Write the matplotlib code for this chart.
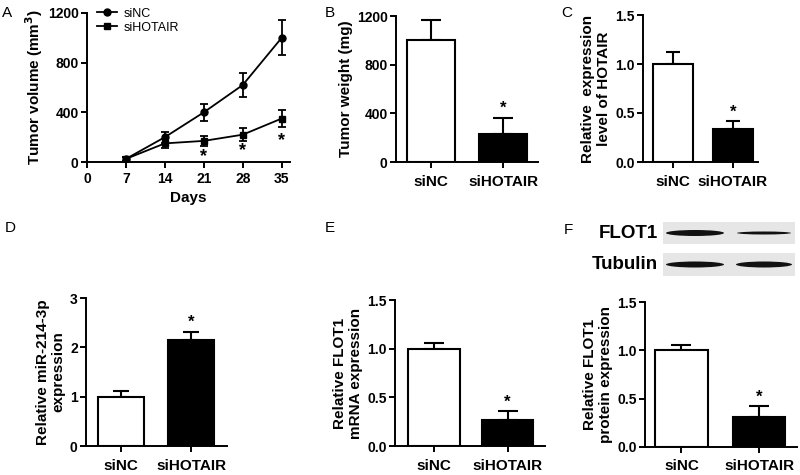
import matplotlib
matplotlib.use("Agg")
import matplotlib.pyplot as plt
from matplotlib.patches import Rectangle, Ellipse
from matplotlib.lines import Line2D

plt.rcParams['font.family'] = ['Liberation Sans', 'DejaVu Sans']
plt.rcParams['font.weight'] = 'bold'
plt.rcParams['axes.linewidth'] = 1.4
plt.rcParams['xtick.major.width'] = 1.4
plt.rcParams['ytick.major.width'] = 1.4
plt.rcParams['xtick.major.size'] = 4
plt.rcParams['ytick.major.size'] = 4

W, H = 800, 475

# panel A: tumour volume over time
days = [7, 14, 21, 28, 35]
vol_sinc = [25, 200, 400, 620, 1000]
vol_sinc_err = [15, 45, 70, 100, 140]
vol_sihotair = [25, 150, 170, 220, 350]
vol_sihotair_err = [15, 35, 40, 50, 70]
star_days = [21, 28, 35]
star_y = [45, 90, 175]

groups = ['siNC', 'siHOTAIR']
# panels B-F: two bars each
weight = [1000, 230]
weight_err = [170, 135]
hotair = [1.0, 0.34]
hotair_err = [0.12, 0.08]
mir214 = [1.0, 2.15]
mir214_err = [0.12, 0.17]
flot1_mrna = [1.0, 0.27]
flot1_mrna_err = [0.06, 0.09]
flot1_prot = [1.0, 0.31]
flot1_prot_err = [0.06, 0.11]

fig = plt.figure(figsize=(8, 4.75), dpi=100)


def px_axes(l, t, r, b):
    return fig.add_axes([l / W, 1 - b / H, (r - l) / W, (b - t) / H])


def style(ax, xfs=11):
    ax.spines['top'].set_visible(False)
    ax.spines['right'].set_visible(False)
    ax.tick_params(axis='y', labelsize=10, pad=2)
    ax.tick_params(axis='x', labelsize=xfs)
    for lab in ax.get_xticklabels() + ax.get_yticklabels():
        lab.set_fontweight('bold')


def bar_panel(l, t, r, b, vals, errs, ylim, yticks, ylabel, width, xlim,
              capsize=6, xfs=11):
    ax = px_axes(l, t, r, b)
    x = [0, 1]
    ax.bar(x, vals, width, color=['white', 'black'], edgecolor='black', linewidth=1.5, zorder=2)
    ax.errorbar(x, vals, yerr=[[0, 0], errs], fmt='none', ecolor='black',
                elinewidth=1.5, capsize=capsize, capthick=1.5, zorder=1)
    # star above the significant group
    ax.text(x[1], vals[1] + errs[1] + 0.01 * ylim[1], '*', ha='center', va='bottom',
            fontsize=12, fontweight='bold')
    ax.set_ylim(*ylim)
    ax.set_xlim(*xlim)
    ax.set_yticks(yticks)
    ax.set_xticks(x)
    ax.set_xticklabels(groups)
    ax.set_ylabel(ylabel, fontsize=11, fontweight='bold', labelpad=3, linespacing=1.2)
    style(ax, xfs)
    ax.tick_params(axis='x', pad=5)
    return ax


# --- A ---
axA = px_axes(87, 13, 290, 162)
axA.errorbar(days, vol_sinc, yerr=vol_sinc_err, color='black', marker='o', ms=5,
             lw=1.3, elinewidth=1.3, capsize=3, capthick=1.3)
axA.errorbar(days, vol_sihotair, yerr=vol_sihotair_err, color='black', marker='s', ms=5,
             lw=1.3, elinewidth=1.3, capsize=3, capthick=1.3)
for d, y in zip(star_days, star_y):
    axA.text(d, y, '*', ha='center', va='center', fontsize=13, fontweight='bold')
axA.set_xlim(0, 36.5)
axA.set_ylim(0, 1200)
axA.set_xticks([0, 7, 14, 21, 28, 35])
axA.set_yticks([0, 400, 800, 1200])
axA.set_xlabel('Days', fontsize=11, fontweight='bold', labelpad=3)
axA.set_ylabel('Tumor volume (mm$^\\mathbf{3}$)', fontsize=11, fontweight='bold', labelpad=2)
style(axA, 10)
handles = [Line2D([], [], color='black', marker='o', ms=5, lw=1.3),
           Line2D([], [], color='black', marker='s', ms=5, lw=1.3)]
axA.legend(handles, groups, loc='upper left', bbox_to_anchor=(-0.005, 1.11), frameon=False,
           prop={'size': 9, 'weight': 'normal'}, handlelength=1.6,
           labelspacing=0.15, handletextpad=0.5)

# --- B-F ---
bar_panel(396, 16, 538, 162, weight, weight_err, (0, 1200), [0, 400, 800, 1200],
          'Tumor weight (mg)', 0.667, (-0.486, 1.486), capsize=7)
bar_panel(643, 15, 758, 162, hotair, hotair_err, (0, 1.5), [0.0, 0.5, 1.0, 1.5],
          'Relative  expression\nlevel of HOTAIR', 0.667, (-0.5, 1.42), capsize=5)
bar_panel(86, 298, 227, 446, mir214, mir214_err, (0, 3), [0, 1, 2, 3],
          'Relative miR-214-3p\nexpression', 0.657, (-0.5, 1.51), capsize=6)
bar_panel(395, 300, 545, 446, flot1_mrna, flot1_mrna_err, (0, 1.5), [0.0, 0.5, 1.0, 1.5],
          'Relative FLOT1\nmRNA expression', 0.707, (-0.53, 1.51), capsize=7)
bar_panel(645, 302, 797, 447, flot1_prot, flot1_prot_err, (0, 1.5), [0.0, 0.5, 1.0, 1.5],
          'Relative FLOT1\nprotein expression', 0.68, (-0.47, 1.49), capsize=7)

# --- western blot inset above F ---
axW = px_axes(663, 222, 795, 276)
axW.set_xlim(663, 795)
axW.set_ylim(276, 222)
axW.axis('off')
axW.add_patch(Rectangle((663, 222), 132, 22, color='#e6e6e6', lw=0))
axW.add_patch(Rectangle((663, 253), 132, 23, color='#e6e6e6', lw=0))
bands = [(695, 233, 58, 6), (764, 233, 54, 3), (695, 264.5, 58, 6), (764, 264.5, 56, 6)]
for cx, cy, bw, bh in bands:
    axW.add_patch(Ellipse((cx, cy), bw, bh, color='#111111', lw=0))
fig.text(658 / W, 1 - 233 / H, 'FLOT1', ha='right', va='center', fontsize=13.5, fontweight='bold')
fig.text(658 / W, 1 - 264.5 / H, 'Tubulin', ha='right', va='center', fontsize=13.5, fontweight='bold')

# panel letters
for lab, x, y in [('A', 7, 13), ('B', 330, 13), ('C', 567, 13),
                  ('D', 10, 228), ('E', 330, 228), ('F', 568, 230)]:
    fig.text(x / W, 1 - y / H, lab, ha='center', va='center', fontsize=11, fontweight='normal')

fig.savefig('out.png', dpi=100)
